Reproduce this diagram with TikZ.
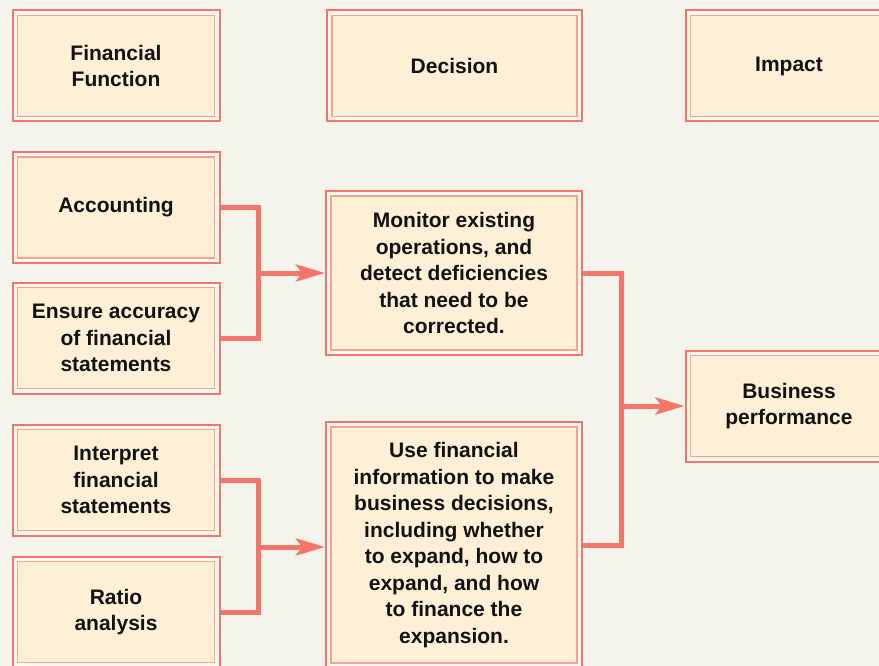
\documentclass[tikz,border=0pt]{standalone}
\usepackage{fontspec}
\setmainfont{Liberation Sans}
\usetikzlibrary{arrows.meta, positioning}
\definecolor{bgcream}{HTML}{F4F4EC}
\definecolor{boxedge}{HTML}{F4766A}
\definecolor{boxinner}{HTML}{F5A293}
\definecolor{boxgap}{HTML}{FBF8F0}
\definecolor{boxfill}{HTML}{FEF0D6}
\definecolor{flowline}{HTML}{F4766A}
\tikzstyle{fnbox} = [
  rectangle, draw=boxedge, line width=2pt, fill=boxgap,
  minimum width=207pt, minimum height=111pt, inner sep=0pt,
  align=center, text=black!93,
  font=\fontsize{21}{26.5}\selectfont\bfseries,
  path picture={
    \draw[boxinner, line width=1.2pt, fill=boxfill]
      ([shift={(5pt,5pt)}]path picture bounding box.south west) rectangle
      ([shift={(-5pt,-5pt)}]path picture bounding box.north east);}
]
\tikzstyle{link} = [draw=flowline, line width=5pt, line join=miter]
\tikzstyle{linkarrow} = [link, -{Stealth[length=29pt, width=17pt, inset=6pt]}]

\begin{document}
\begin{tikzpicture}[x=1pt, y=-1pt]

  % Background
  \fill[bgcream] (0,0) rectangle (879,666);
  \useasboundingbox (0,0) rectangle (879,666);

  % Column headings
  \node[fnbox] (ffunc) at (116,66) {Financial\\Function};
  \node[fnbox, minimum width=255pt] (decision) at (454.5,66) {Decision};
  \node[fnbox] (impact) at (789,66) {Impact};

  % Financial functions
  \node[fnbox] (acct) at (116,207.5) {Accounting};
  \node[fnbox] (accuracy) at (116,338) {Ensure accuracy\\of financial\\statements};
  \node[fnbox] (interp) at (116,480) {Interpret\\financial\\statements};
  \node[fnbox] (ratio) at (116,612) {Ratio\\analysis};

  % Decisions
  \node[fnbox, minimum width=256pt, minimum height=164pt]
    (monitor) at (454,273) {Monitor existing\\operations, and\\detect deficiencies\\that need to be\\corrected.};
  \node[fnbox, minimum width=256pt, minimum height=246pt]
    (usefin) at (454,545) {Use financial\\information to make\\business decisions,\\including whether\\to expand, how to\\expand, and how\\to finance the\\expansion.};

  % Impact
  \node[fnbox] (perf) at (789,406) {Business\\performance};

  % Connections
  \coordinate (j1) at (258,273);
  \draw[link] (acct.east) -| (j1) |- (accuracy.east);
  \draw[linkarrow] (j1) -- (monitor.west);

  \coordinate (j2) at (258,547);
  \draw[link] (interp.east) -| (j2) |- (ratio.east);
  \draw[linkarrow] (j2) -- (j2 -| usefin.west);

  \coordinate (j3) at (621,406);
  \draw[link] (monitor.east) -| (j3) |- (usefin.east);
  \draw[linkarrow] (j3) -- (perf.west);

\end{tikzpicture}
\end{document}
